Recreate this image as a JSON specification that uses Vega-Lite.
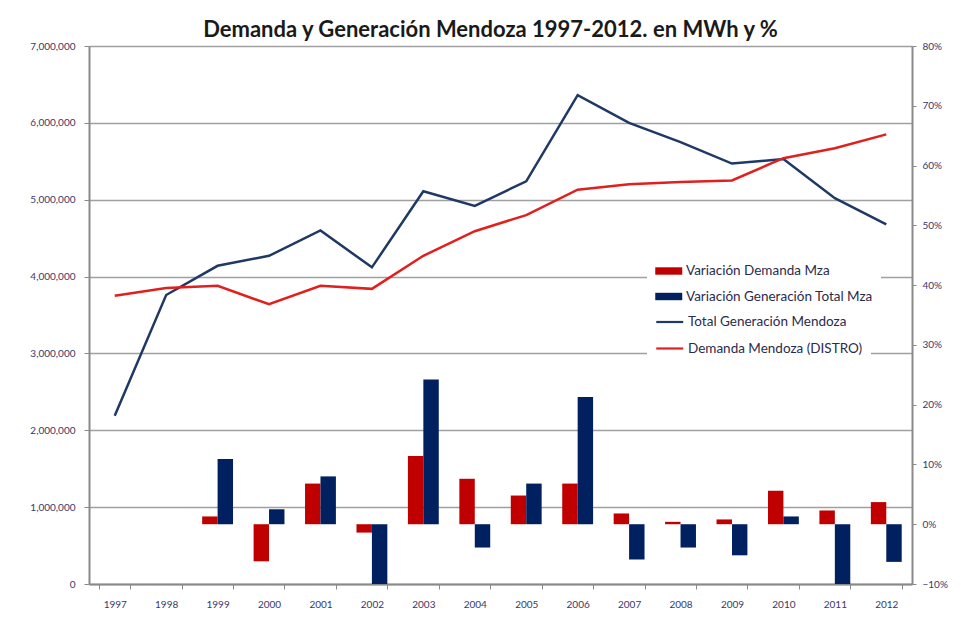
{
  "$schema": "https://vega.github.io/schema/vega-lite/v6.json",
  "width": 823,
  "height": 538,
  "autosize": {"type": "none"},
  "padding": {"left": 89, "top": 46, "right": 49, "bottom": 46},
  "background": "white",
  "config": {"view": {"stroke": null}, "font": "Lato"},
  "title": {"text": "Demanda y Generación Mendoza 1997-2012. en MWh y %", "font": "Lato", "fontSize": 22, "fontWeight": "bold", "color": "#1a1a1a", "anchor": "middle", "offset": -1, "dx": -10},
  "datasets": {
    "bars": [
      {"year": "1999", "serie": "Variación Demanda Mza", "pct": 0.013},
      {"year": "1999", "serie": "Variación Generación Total Mza", "pct": 0.109},
      {"year": "2000", "serie": "Variación Demanda Mza", "pct": -0.062},
      {"year": "2000", "serie": "Variación Generación Total Mza", "pct": 0.025},
      {"year": "2001", "serie": "Variación Demanda Mza", "pct": 0.068},
      {"year": "2001", "serie": "Variación Generación Total Mza", "pct": 0.080},
      {"year": "2002", "serie": "Variación Demanda Mza", "pct": -0.014},
      {"year": "2002", "serie": "Variación Generación Total Mza", "pct": -0.105},
      {"year": "2003", "serie": "Variación Demanda Mza", "pct": 0.114},
      {"year": "2003", "serie": "Variación Generación Total Mza", "pct": 0.242},
      {"year": "2004", "serie": "Variación Demanda Mza", "pct": 0.076},
      {"year": "2004", "serie": "Variación Generación Total Mza", "pct": -0.039},
      {"year": "2005", "serie": "Variación Demanda Mza", "pct": 0.048},
      {"year": "2005", "serie": "Variación Generación Total Mza", "pct": 0.068},
      {"year": "2006", "serie": "Variación Demanda Mza", "pct": 0.068},
      {"year": "2006", "serie": "Variación Generación Total Mza", "pct": 0.213},
      {"year": "2007", "serie": "Variación Demanda Mza", "pct": 0.018},
      {"year": "2007", "serie": "Variación Generación Total Mza", "pct": -0.059},
      {"year": "2008", "serie": "Variación Demanda Mza", "pct": 0.004},
      {"year": "2008", "serie": "Variación Generación Total Mza", "pct": -0.039},
      {"year": "2009", "serie": "Variación Demanda Mza", "pct": 0.008},
      {"year": "2009", "serie": "Variación Generación Total Mza", "pct": -0.052},
      {"year": "2010", "serie": "Variación Demanda Mza", "pct": 0.056},
      {"year": "2010", "serie": "Variación Generación Total Mza", "pct": 0.013},
      {"year": "2011", "serie": "Variación Demanda Mza", "pct": 0.023},
      {"year": "2011", "serie": "Variación Generación Total Mza", "pct": -0.105},
      {"year": "2012", "serie": "Variación Demanda Mza", "pct": 0.037},
      {"year": "2012", "serie": "Variación Generación Total Mza", "pct": -0.063}
    ],
    "lines": [
      {"year": "1997", "serie": "Total Generación Mendoza", "mwh": 2190000},
      {"year": "1998", "serie": "Total Generación Mendoza", "mwh": 3760000},
      {"year": "1999", "serie": "Total Generación Mendoza", "mwh": 4140000},
      {"year": "2000", "serie": "Total Generación Mendoza", "mwh": 4270000},
      {"year": "2001", "serie": "Total Generación Mendoza", "mwh": 4600000},
      {"year": "2002", "serie": "Total Generación Mendoza", "mwh": 4120000},
      {"year": "2003", "serie": "Total Generación Mendoza", "mwh": 5110000},
      {"year": "2004", "serie": "Total Generación Mendoza", "mwh": 4920000},
      {"year": "2005", "serie": "Total Generación Mendoza", "mwh": 5240000},
      {"year": "2006", "serie": "Total Generación Mendoza", "mwh": 6360000},
      {"year": "2007", "serie": "Total Generación Mendoza", "mwh": 6000000},
      {"year": "2008", "serie": "Total Generación Mendoza", "mwh": 5750000},
      {"year": "2009", "serie": "Total Generación Mendoza", "mwh": 5470000},
      {"year": "2010", "serie": "Total Generación Mendoza", "mwh": 5530000},
      {"year": "2011", "serie": "Total Generación Mendoza", "mwh": 5020000},
      {"year": "2012", "serie": "Total Generación Mendoza", "mwh": 4680000},
      {"year": "1997", "serie": "Demanda Mendoza (DISTRO)", "mwh": 3750000},
      {"year": "1998", "serie": "Demanda Mendoza (DISTRO)", "mwh": 3850000},
      {"year": "1999", "serie": "Demanda Mendoza (DISTRO)", "mwh": 3880000},
      {"year": "2000", "serie": "Demanda Mendoza (DISTRO)", "mwh": 3640000},
      {"year": "2001", "serie": "Demanda Mendoza (DISTRO)", "mwh": 3880000},
      {"year": "2002", "serie": "Demanda Mendoza (DISTRO)", "mwh": 3840000},
      {"year": "2003", "serie": "Demanda Mendoza (DISTRO)", "mwh": 4270000},
      {"year": "2004", "serie": "Demanda Mendoza (DISTRO)", "mwh": 4590000},
      {"year": "2005", "serie": "Demanda Mendoza (DISTRO)", "mwh": 4800000},
      {"year": "2006", "serie": "Demanda Mendoza (DISTRO)", "mwh": 5130000},
      {"year": "2007", "serie": "Demanda Mendoza (DISTRO)", "mwh": 5200000},
      {"year": "2008", "serie": "Demanda Mendoza (DISTRO)", "mwh": 5230000},
      {"year": "2009", "serie": "Demanda Mendoza (DISTRO)", "mwh": 5250000},
      {"year": "2010", "serie": "Demanda Mendoza (DISTRO)", "mwh": 5540000},
      {"year": "2011", "serie": "Demanda Mendoza (DISTRO)", "mwh": 5670000},
      {"year": "2012", "serie": "Demanda Mendoza (DISTRO)", "mwh": 5850000}
    ]
  },
  "layer": [
    {
      "data": {"name": "bars"},
      "mark": {"type": "bar", "clip": true},
      "encoding": {
        "x": {
          "field": "year", "type": "ordinal",
          "scale": {"domain": ["1997","1998","1999","2000","2001","2002","2003","2004","2005","2006","2007","2008","2009","2010","2011","2012"], "paddingInner": 0.4, "paddingOuter": 0.2},
          "axis": {"title": null, "labelAngle": 0, "labelFont": "Lato", "labelFontSize": 10, "labelColor": "#38386a", "labelPadding": 10, "tickBand": "extent", "tickSize": 5, "tickColor": "#8a8a8a", "domainColor": "#8a8a8a", "domainWidth": 2, "grid": false}
        },
        "xOffset": {"field": "serie", "type": "nominal", "scale": {"domain": ["Variación Demanda Mza", "Variación Generación Total Mza"]}},
        "y": {
          "field": "pct", "type": "quantitative",
          "scale": {"domain": [-0.1, 0.8], "nice": false, "zero": false},
          "axis": {"orient": "right", "title": null, "format": ".0%", "values": [-0.1, 0, 0.1, 0.2, 0.3, 0.4, 0.5, 0.6, 0.7, 0.8], "grid": false, "labelFont": "Lato", "labelFontSize": 10, "labelColor": "#38386a", "labelPadding": 6, "tickSize": 4, "tickColor": "#8a8a8a", "domainColor": "#8a8a8a", "domainWidth": 2}
        },
        "color": {
          "field": "serie", "type": "nominal",
          "scale": {"domain": ["Variación Demanda Mza", "Variación Generación Total Mza"], "range": ["#C00000", "#002060"]},
          "legend": {"title": null, "orient": "none", "legendX": 558, "legendY": 210, "padding": 8, "fillColor": "white", "rowPadding": 11.5, "symbolType": "M-1,-0.55H3V0.55H-1Z", "symbolSize": 182, "symbolStrokeWidth": 0, "labelOffset": 17, "labelFont": "Lato", "labelFontSize": 13.5, "labelColor": "#2b2b4b", "labelLimit": 300}
        }
      }
    },
    {
      "data": {"name": "lines"},
      "mark": {"type": "line", "strokeWidth": 2.5},
      "encoding": {
        "x": {"field": "year", "type": "ordinal"},
        "y": {
          "field": "mwh", "type": "quantitative",
          "scale": {"domain": [0, 7000000], "nice": false},
          "axis": {"orient": "left", "title": null, "format": ",d", "values": [0, 1000000, 2000000, 3000000, 4000000, 5000000, 6000000, 7000000], "grid": true, "gridColor": "#a0a0a0", "gridWidth": 1.3, "labelFont": "Lato", "labelFontSize": 10, "labelColor": "#38386a", "labelPadding": 9, "tickSize": 5, "tickColor": "#8a8a8a", "domainColor": "#8a8a8a", "domainWidth": 2}
        },
        "stroke": {
          "field": "serie", "type": "nominal",
          "scale": {"domain": ["Total Generación Mendoza", "Demanda Mendoza (DISTRO)"], "range": ["#1F3864", "#E0201E"]},
          "legend": {"title": null, "orient": "none", "legendX": 558, "legendY": 260, "padding": 8, "fillColor": "white", "rowPadding": 11.5, "symbolType": "M-1,0H3", "symbolSize": 182, "symbolStrokeWidth": 2.2, "labelOffset": 17, "labelFont": "Lato", "labelFontSize": 13.5, "labelColor": "#2b2b4b", "labelLimit": 300}
        }
      }
    }
  ],
  "resolve": {"scale": {"y": "independent"}}
}
